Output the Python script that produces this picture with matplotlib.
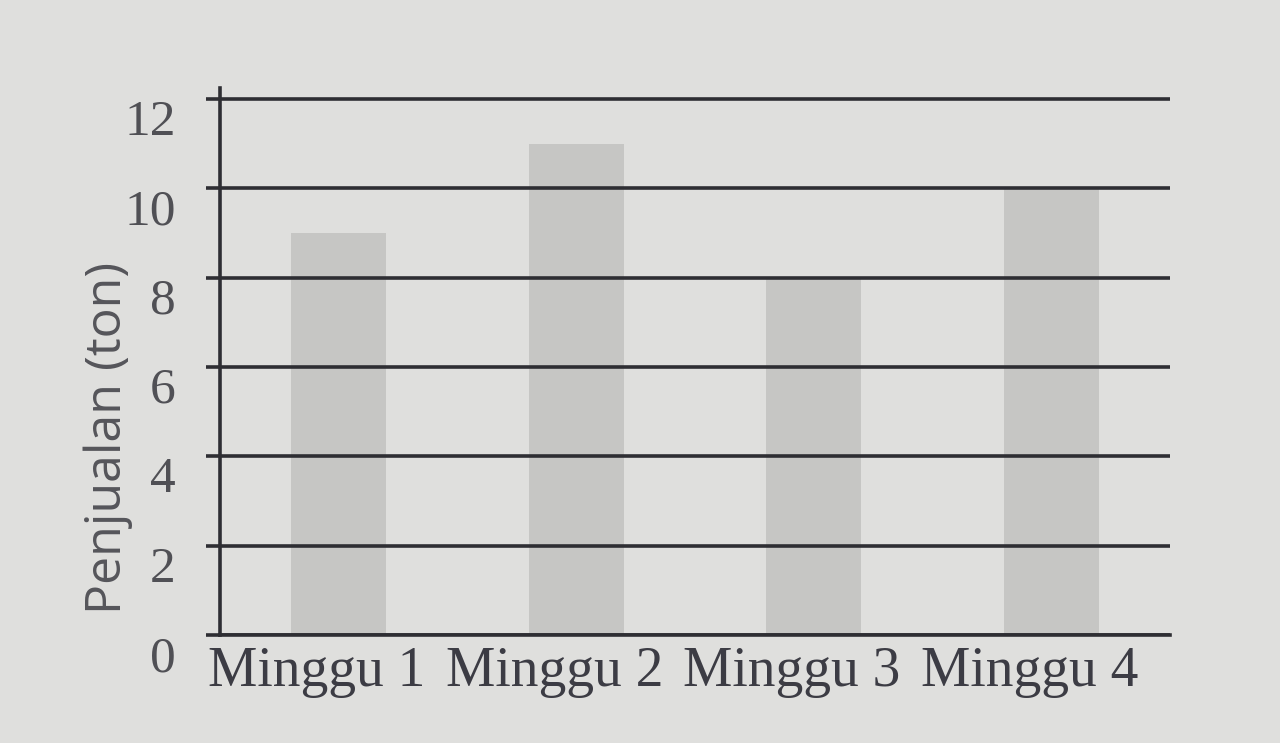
import matplotlib
matplotlib.use("Agg")
import matplotlib.pyplot as plt
import matplotlib.transforms as mtransforms

categories = ["Minggu 1", "Minggu 2", "Minggu 3", "Minggu 4"]
values = [9, 11, 8, 10]
yticks = [0, 2, 4, 6, 8, 10, 12]
ylabel = "Penjualan (ton)"

bg = "#dfdfdd"
fig = plt.figure(figsize=(12.8, 7.43), dpi=100, facecolor=bg)
ax = fig.add_axes([0.172, 0.145, 0.742, 0.737])
ax.set_facecolor(bg)

x = range(len(categories))
ax.bar(x, values, width=0.4, color="#c6c6c4", zorder=1)

ax.set_xlim(-0.5, 3.5)
ax.set_ylim(0, 12.25)
ax.set_yticks(yticks)
for t in yticks:
    ax.axhline(t, color="#2e2e33", lw=2.6, zorder=2, xmin=0, xmax=1)

for s in ["top", "right"]:
    ax.spines[s].set_visible(False)
ax.spines["left"].set_color("#2e2e33")
ax.spines["left"].set_linewidth(2.6)
ax.spines["bottom"].set_color("#2e2e33")
ax.spines["bottom"].set_linewidth(2.6)
ax.tick_params(axis="y", length=10, width=2.6, color="#2e2e33", pad=22,
               labelsize=37, labelcolor="#505055")
ax.tick_params(axis="x", length=0, pad=8, labelsize=40, labelcolor="#3c3c44")
ax.set_xticks(list(x))
ax.set_xticklabels(categories, family="Liberation Serif")
for lab in ax.get_yticklabels():
    lab.set_family("Liberation Serif")
    lab.set_transform(lab.get_transform() + mtransforms.ScaledTranslation(0, -0.18, fig.dpi_scale_trans))
for lab in ax.get_xticklabels():
    lab.set_transform(lab.get_transform() + mtransforms.ScaledTranslation(-0.22, 0, fig.dpi_scale_trans))

ax.set_ylabel(ylabel, family="Open Sans", fontsize=36, color="#55555a")
ax.yaxis.set_label_coords(-0.092, 0.36)

fig.savefig("out.png", dpi=100, facecolor=bg)
